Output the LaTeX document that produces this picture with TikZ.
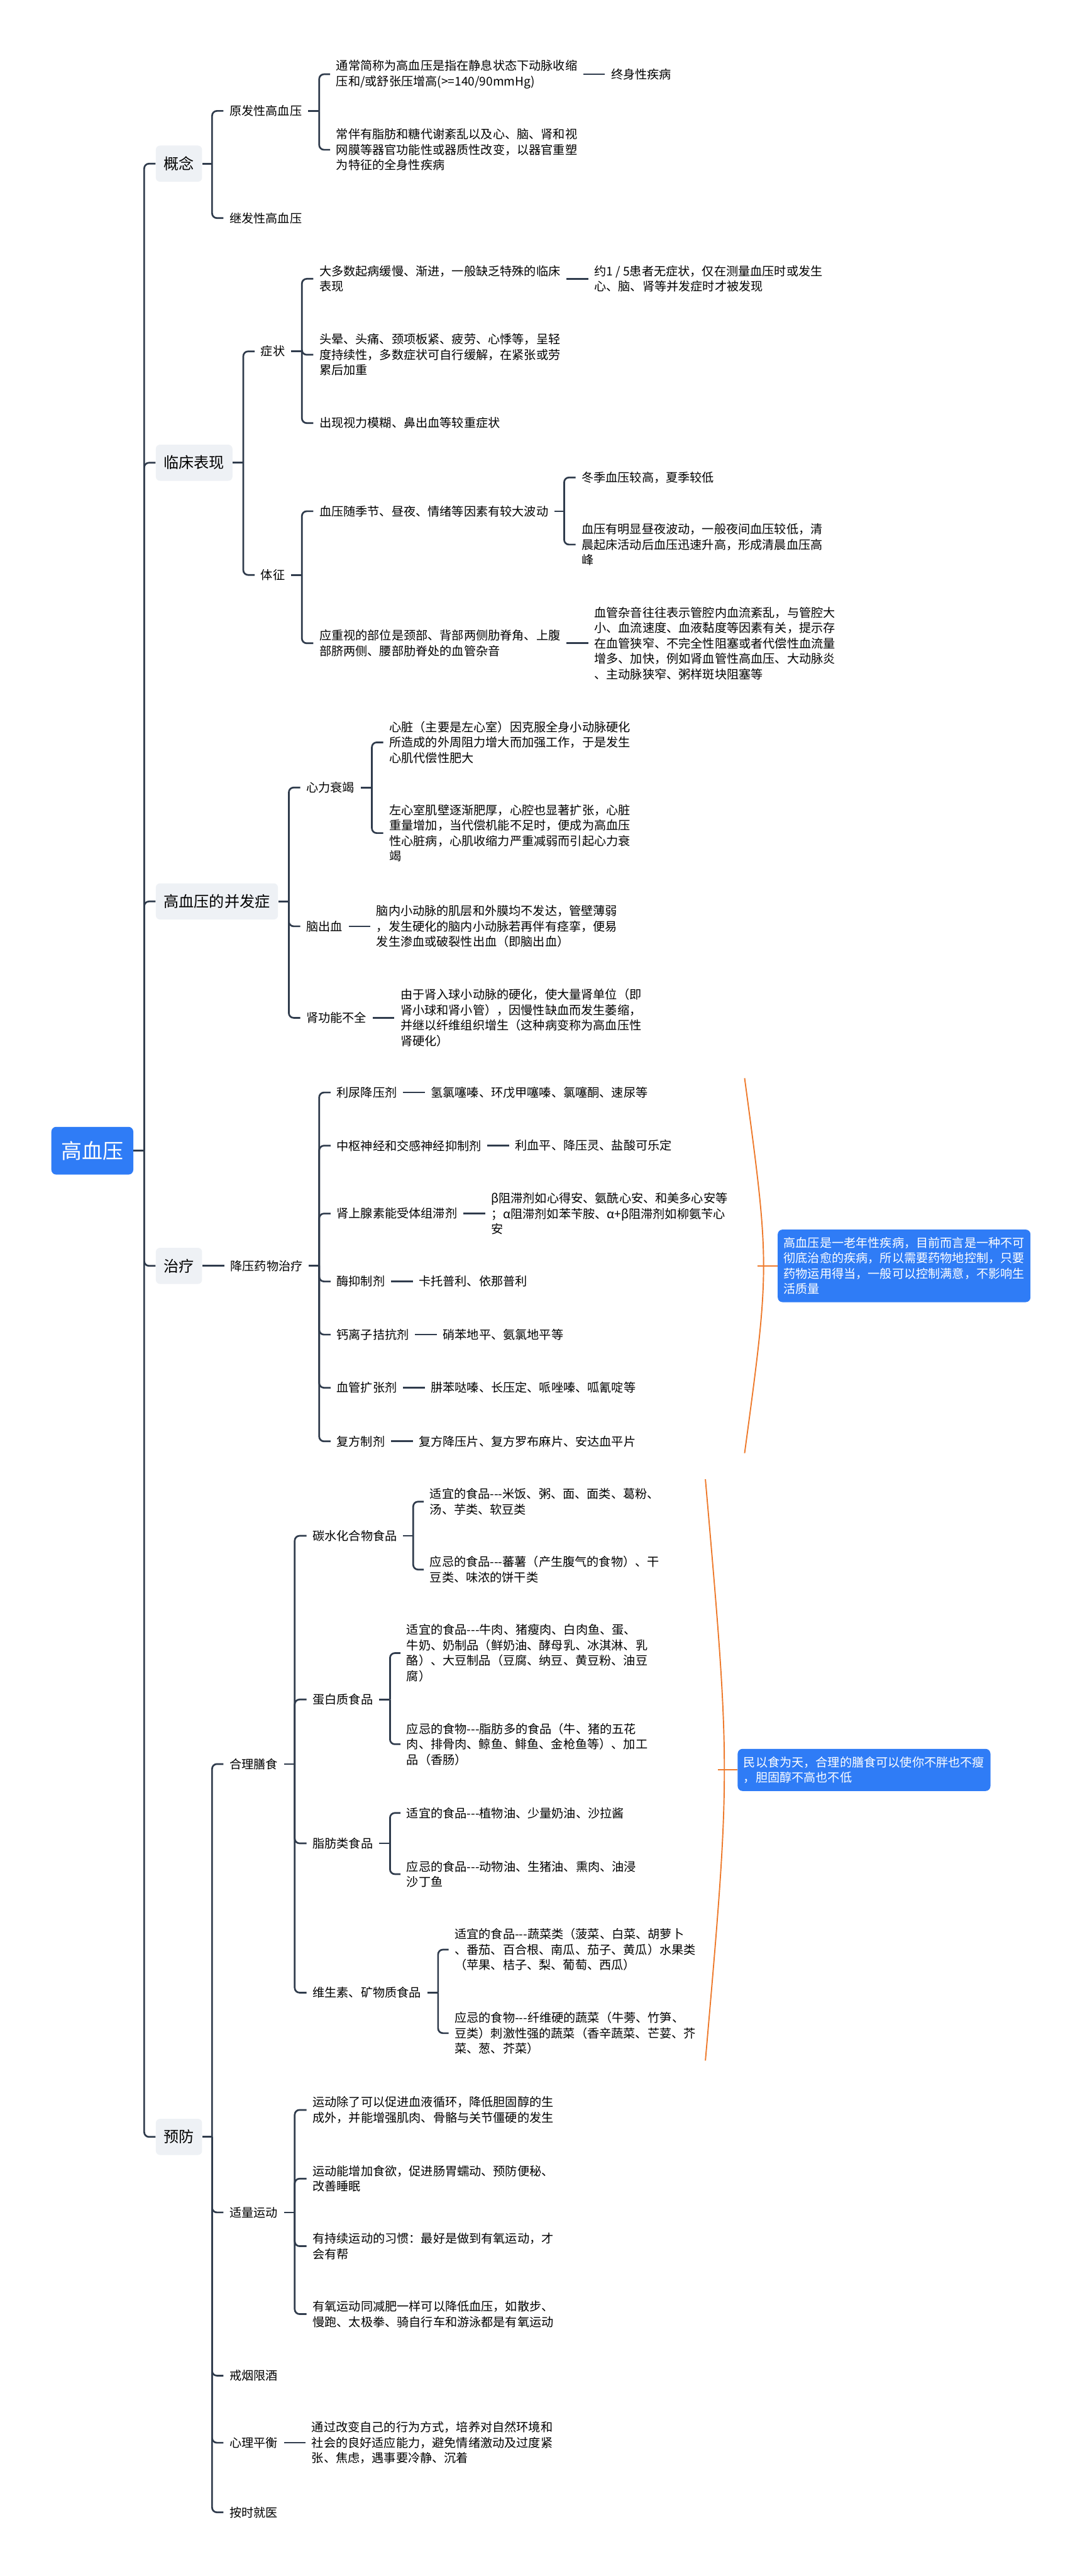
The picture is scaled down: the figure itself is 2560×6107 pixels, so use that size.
\documentclass[tikz,border=0pt]{standalone}
\usepackage{fontspec}
\setmainfont{Noto Sans CJK SC}
\usepackage{xcolor}
\usetikzlibrary{positioning}
\definecolor{mainblue}{HTML}{2F7CF6}
\definecolor{topicgray}{HTML}{EEF1F5}
\definecolor{linegray}{HTML}{2F3B4C}
\definecolor{sumorange}{HTML}{EE7A2C}

\begin{document}
\begin{tikzpicture}[x=0.35pt, y=-0.35pt, node distance={18pt},
    root/.style = {fill=mainblue, text=white, rounded corners=4pt, minimum width=68pt, minimum height=39.6pt, font=\fontsize{17.2}{20}\selectfont},
    topic/.style = {anchor=west, fill=topicgray, rounded corners=3.5pt, inner xsep=6.6pt, minimum height=30pt, font=\fontsize{12.6}{15}\selectfont},
    sub/.style = {anchor=west, align=left, inner xsep=4.9pt, font=\fontsize{10}{12.8}\selectfont},
    note/.style = {sub, fill=mainblue, text=white, rounded corners=4pt, inner ysep=6.3pt},
    conn/.style = {draw=linegray, line width=1.4pt, rounded corners=4pt},
    sumline/.style = {draw=sumorange, line width=1pt}]
    \useasboundingbox (0,0) rectangle (2560,6107);
    \fill[white] (0,0) rectangle (2560,6107);

    \node[root] (0) at (219,2728) {高血压};
    \node[topic] (1) at (369,388) {概念};
    \node[topic] (2) at (369,1097) {临床表现};
    \node[topic] (3) at (369,2137) {高血压的并发症};
    \node[topic] (4) at (369,3001) {治疗};
    \node[topic] (5) at (369,5066) {预防};

    \node[sub] (11) at (530,263) {原发性高血压};
    \node[sub] (111) at (783,176) {通常简称为高血压是指在静息状态下动脉收缩\\压和/或舒张压增高(>=140/90mmHg)};
    \node[sub] (1111) [right=of 111] {终身性疾病};
    \node[sub] (112) at (783,355) {常伴有脂肪和糖代谢紊乱以及心、脑、肾和视\\网膜等器官功能性或器质性改变，以器官重塑\\为特征的全身性疾病};
    \node[sub] (12) at (530,517) {继发性高血压};

    \node[sub] (21) at (604,833) {症状};
    \node[sub] (211) at (743,661) {大多数起病缓慢、渐进，一般缺乏特殊的临床\\表现};
    \node[sub] (2111) [right=of 211] {约1 / 5患者无症状，仅在测量血压时或发生\\心、脑、肾等并发症时才被发现};
    \node[sub] (212) at (743,841) {头晕、头痛、颈项板紧、疲劳、心悸等，呈轻\\度持续性，多数症状可自行缓解，在紧张或劳\\累后加重};
    \node[sub] (213) at (743,1003) {出现视力模糊、鼻出血等较重症状};
    \node[sub] (22) at (604,1363) {体征};
    \node[sub] (221) at (743,1212) {血压随季节、昼夜、情绪等因素有较大波动};
    \node[sub] (2211) at (1365,1132) {冬季血压较高，夏季较低};
    \node[sub] (2212) at (1365,1291) {血压有明显昼夜波动，一般夜间血压较低，清\\晨起床活动后血压迅速升高，形成清晨血压高\\峰};
    \node[sub] (222) at (743,1525) {应重视的部位是颈部、背部两侧肋脊角、上腹\\部脐两侧、腰部肋脊处的血管杂音};
    \node[sub] (2221) [right=of 222] {血管杂音往往表示管腔内血流紊乱，与管腔大\\小、血流速度、血液黏度等因素有关，提示存\\在血管狭窄、不完全性阻塞或者代偿性血流量\\增多、加快，例如肾血管性高血压、大动脉炎\\、主动脉狭窄、粥样斑块阻塞等};

    \node[sub] (31) at (712,1867) {心力衰竭};
    \node[sub] (311) at (909,1760) {心脏（主要是左心室）因克服全身小动脉硬化\\所造成的外周阻力增大而加强工作，于是发生\\心肌代偿性肥大};
    \node[sub] (312) at (909,1975) {左心室肌壁逐渐肥厚，心腔也显著扩张，心脏\\重量增加，当代偿机能不足时，便成为高血压\\性心脏病，心肌收缩力严重减弱而引起心力衰\\竭};
    \node[sub] (32) at (712,2196) {脑出血};
    \node[sub] (321) [right=of 32] {脑内小动脉的肌层和外膜均不发达，管壁薄弱\\，发生硬化的脑内小动脉若再伴有痉挛，便易\\发生渗血或破裂性出血（即脑出血）};
    \node[sub] (33) at (712,2413) {肾功能不全};
    \node[sub] (331) [right=of 33] {由于肾入球小动脉的硬化，使大量肾单位（即\\肾小球和肾小管），因慢性缺血而发生萎缩，\\并继以纤维组织增生（这种病变称为高血压性\\肾硬化）};

    \node[sub] (41) at (532,3001) {降压药物治疗};
    \node[sub] (411) at (784,2590) {利尿降压剂};
    \node[sub] (4111) [right=of 411] {氢氯噻嗪、环戊甲噻嗪、氯噻酮、速尿等};
    \node[sub] (412) at (784,2716) {中枢神经和交感神经抑制剂};
    \node[sub] (4121) [right=of 412] {利血平、降压灵、盐酸可乐定};
    \node[sub] (413) at (784,2877) {肾上腺素能受体组滞剂};
    \node[sub] (4131) [right=of 413] {β阻滞剂如心得安、氨酰心安、和美多心安等\\；α阻滞剂如苯苄胺、α+β阻滞剂如柳氨苄心\\安};
    \node[sub] (414) at (784,3038) {酶抑制剂};
    \node[sub] (4141) [right=of 414] {卡托普利、依那普利};
    \node[sub] (415) at (784,3164) {钙离子拮抗剂};
    \node[sub] (4151) [right=of 415] {硝苯地平、氨氯地平等};
    \node[sub] (416) at (784,3290) {血管扩张剂};
    \node[sub] (4161) [right=of 416] {肼苯哒嗪、长压定、哌唑嗪、呱氰啶等};
    \node[sub] (417) at (784,3417) {复方制剂};
    \node[sub] (4171) [right=of 417] {复方降压片、复方罗布麻片、安达血平片};
    \node[note] (n1) at (1844,3001) {高血压是一老年性疾病，目前而言是一种不可\\彻底治愈的疾病，所以需要药物地控制，只要\\药物运用得当，一般可以控制满意，不影响生\\活质量};

    \node[sub] (51) at (530,4182) {合理膳食};
    \node[sub] (511) at (727,3641) {碳水化合物食品};
    \node[sub] (5111) at (1005,3560) {适宜的食品-{}-{}-米饭、粥、面、面类、葛粉、\\汤、芋类、软豆类};
    \node[sub] (5112) at (1005,3721) {应忌的食品-{}-{}-蕃薯（产生腹气的食物）、干\\豆类、味浓的饼干类};
    \node[sub] (512) at (727,4029) {蛋白质食品};
    \node[sub] (5121) at (950,3919) {适宜的食品-{}-{}-牛肉、猪瘦肉、白肉鱼、蛋、\\牛奶、奶制品（鲜奶油、酵母乳、冰淇淋、乳\\酪）、大豆制品（豆腐、纳豆、黄豆粉、油豆\\腐）};
    \node[sub] (5122) at (950,4135) {应忌的食物-{}-{}-脂肪多的食品（牛、猪的五花\\肉、排骨肉、鲸鱼、鲱鱼、金枪鱼等）、加工\\品（香肠）};
    \node[sub] (513) at (727,4370) {脂肪类食品};
    \node[sub] (5131) at (950,4298) {适宜的食品-{}-{}-植物油、少量奶油、沙拉酱};
    \node[sub] (5132) at (950,4443) {应忌的食品-{}-{}-动物油、生猪油、熏肉、油浸\\沙丁鱼};
    \node[sub] (514) at (727,4724) {维生素、矿物质食品};
    \node[sub] (5141) at (1064,4622) {适宜的食品-{}-{}-蔬菜类（菠菜、白菜、胡萝卜\\、番茄、百合根、南瓜、茄子、黄瓜）水果类\\（苹果、桔子、梨、葡萄、西瓜）};
    \node[sub] (5142) at (1064,4820) {应忌的食物-{}-{}-纤维硬的蔬菜（牛蒡、竹笋、\\豆类）刺激性强的蔬菜（香辛蔬菜、芒荽、芥\\菜、葱、芥菜）};
    \node[note] (n2) at (1749,4196) {民以食为天，合理的膳食可以使你不胖也不瘦\\，胆固醇不高也不低};
    \node[sub] (52) at (530,5245) {适量运动};
    \node[sub] (521) at (727,5002) {运动除了可以促进血液循环，降低胆固醇的生\\成外，并能增强肌肉、骨骼与关节僵硬的发生};
    \node[sub] (522) at (727,5165) {运动能增加食欲，促进肠胃蠕动、预防便秘、\\改善睡眠};
    \node[sub] (523) at (727,5325) {有持续运动的习惯：最好是做到有氧运动，才\\会有帮};
    \node[sub] (524) at (727,5486) {有氧运动同减肥一样可以降低血压，如散步、\\慢跑、太极拳、骑自行车和游泳都是有氧运动};
    \node[sub] (53) at (530,5632) {戒烟限酒};
    \node[sub] (54) at (530,5791) {心理平衡};
    \node[sub] (541) [right=of 54] {通过改变自己的行为方式，培养对自然环境和\\社会的良好适应能力，避免情绪激动及过度紧\\张、焦虑，遇事要冷静、沉着};
    \node[sub] (55) at (530,5956) {按时就医};

    \coordinate (j0) at (342,2728);
    \coordinate (j1) at (503,388);
    \coordinate (j11) at (757,263);
    \coordinate (j2) at (577,1097);
    \coordinate (j21) at (716,833);
    \coordinate (j22) at (716,1363);
    \coordinate (j221) at (1338,1212);
    \coordinate (j3) at (685,2137);
    \coordinate (j31) at (882,1867);
    \coordinate (j41) at (757,3001);
    \coordinate (j5) at (503,5066);
    \coordinate (j51) at (699,4182);
    \coordinate (j511) at (980,3641);
    \coordinate (j512) at (925,4029);
    \coordinate (j513) at (925,4370);
    \coordinate (j514) at (1039,4724);
    \coordinate (j52) at (699,5245);

    \draw[conn] (0) -- (j0);
    \foreach \c in {1,...,5} \draw[conn] (j0) |- (\c);
    \draw[conn] (1) -- (j1);
    \foreach \c in {11,12} \draw[conn] (j1) |- (\c);
    \draw[conn] (11) -- (j11);
    \foreach \c in {111,112} \draw[conn] (j11) |- (\c);
    \draw[conn] (111) -- (1111);
    \draw[conn] (2) -- (j2);
    \foreach \c in {21,22} \draw[conn] (j2) |- (\c);
    \draw[conn] (21) -- (j21);
    \foreach \c in {211,212,213} \draw[conn] (j21) |- (\c);
    \draw[conn] (211) -- (2111);
    \draw[conn] (22) -- (j22);
    \foreach \c in {221,222} \draw[conn] (j22) |- (\c);
    \draw[conn] (221) -- (j221);
    \foreach \c in {2211,2212} \draw[conn] (j221) |- (\c);
    \draw[conn] (222) -- (2221);
    \draw[conn] (3) -- (j3);
    \foreach \c in {31,32,33} \draw[conn] (j3) |- (\c);
    \draw[conn] (31) -- (j31);
    \foreach \c in {311,312} \draw[conn] (j31) |- (\c);
    \draw[conn] (32) -- (321);
    \draw[conn] (33) -- (331);
    \draw[conn] (4) -- (41);
    \draw[conn] (41) -- (j41);
    \foreach \c in {411,...,417} {
        \draw[conn] (j41) |- (\c);
        \draw[conn] (\c) -- (\c1);
    }
    \draw[conn] (5) -- (j5);
    \foreach \c in {51,...,55} \draw[conn] (j5) |- (\c);
    \draw[conn] (51) -- (j51);
    \foreach \c in {511,...,514} \draw[conn] (j51) |- (\c);
    \draw[conn] (511) -- (j511);
    \foreach \c in {5111,5112} \draw[conn] (j511) |- (\c);
    \draw[conn] (512) -- (j512);
    \foreach \c in {5121,5122} \draw[conn] (j512) |- (\c);
    \draw[conn] (513) -- (j513);
    \foreach \c in {5131,5132} \draw[conn] (j513) |- (\c);
    \draw[conn] (514) -- (j514);
    \foreach \c in {5141,5142} \draw[conn] (j514) |- (\c);
    \draw[conn] (52) -- (j52);
    \foreach \c in {521,...,524} \draw[conn] (j52) |- (\c);
    \draw[conn] (54) -- (541);

    \coordinate (b1t) at (1766,2556);
    \coordinate (b1m) at (1796,3001);
    \coordinate (b1b) at (1766,3445);
    \draw[sumline] (b1t) .. controls (1826,3001) .. (b1b);
    \draw[sumline] (b1m) -- (n1);
    \coordinate (b2t) at (1673,3507);
    \coordinate (b2m) at (1703,4196);
    \coordinate (b2b) at (1673,4885);
    \draw[sumline] (b2t) .. controls (1733,4196) .. (b2b);
    \draw[sumline] (b2m) -- (n2);
\end{tikzpicture}
\end{document}
